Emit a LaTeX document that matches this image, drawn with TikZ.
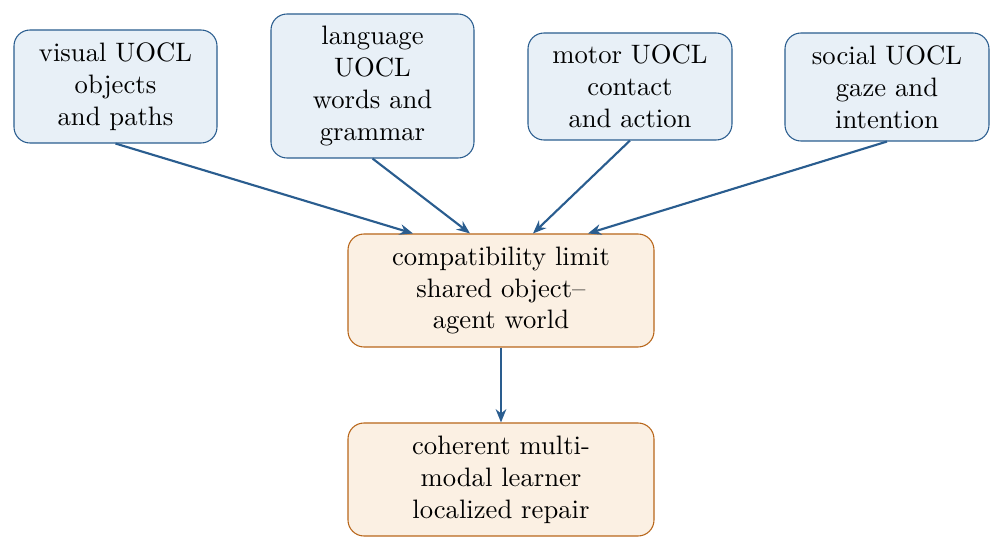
\documentclass[tikz,border=0pt]{standalone}
\usetikzlibrary{arrows.meta}
\definecolor{bfill}{HTML}{E8F0F7}
\definecolor{bdraw}{HTML}{2A5D8F}
\definecolor{ofill}{HTML}{FBF0E3}
\definecolor{odraw}{HTML}{B8661A}
\definecolor{arr}{HTML}{2A5D8F}
\begin{document}
\begin{tikzpicture}[x=0.01318cm,y=-0.01318cm,
  top/.style={draw=bdraw,fill=bfill,rounded corners=6pt,align=center,inner sep=0pt,minimum width=203\pgfkeysvalueof{/pgf/x}},
  low/.style={draw=odraw,fill=ofill,rounded corners=6pt,align=center,inner sep=0pt,minimum width=306*0.01318cm,minimum height=113*0.01318cm},
  conn/.style={draw=arr,line width=0.8pt,-{Stealth[length=5pt,width=4pt]}}]
\useasboundingbox (0,0) rectangle (1003,551);
\node[top,minimum width=203*0.01318cm,minimum height=113*0.01318cm] (v) at (115.5,86.5) {visual UOCL\\objects\\and paths};
\node[top,minimum width=203*0.01318cm,minimum height=144*0.01318cm] (l) at (372.5,86) {language\\UOCL\\words and\\grammar};
\node[top,minimum width=204*0.01318cm,minimum height=107*0.01318cm] (m) at (630,86.5) {motor UOCL\\contact\\and action};
\node[top,minimum width=204*0.01318cm,minimum height=108*0.01318cm] (s) at (887,87) {social UOCL\\gaze and\\intention};
\node[low] (c) at (501,290.5) {compatibility limit\\shared object--\\agent world};
\node[low] (h) at (501,479.5) {coherent multi-\\modal learner\\localized repair};
\draw[conn] (v.south) -- ([xshift=-88*0.01318cm]c.north);
\draw[conn] (l.south) -- ([xshift=-31*0.01318cm]c.north);
\draw[conn] (m.south) -- ([xshift=32*0.01318cm]c.north);
\draw[conn] (s.south) -- ([xshift=87*0.01318cm]c.north);
\draw[conn] (c.south) -- (h.north);
\end{tikzpicture}
\end{document}
